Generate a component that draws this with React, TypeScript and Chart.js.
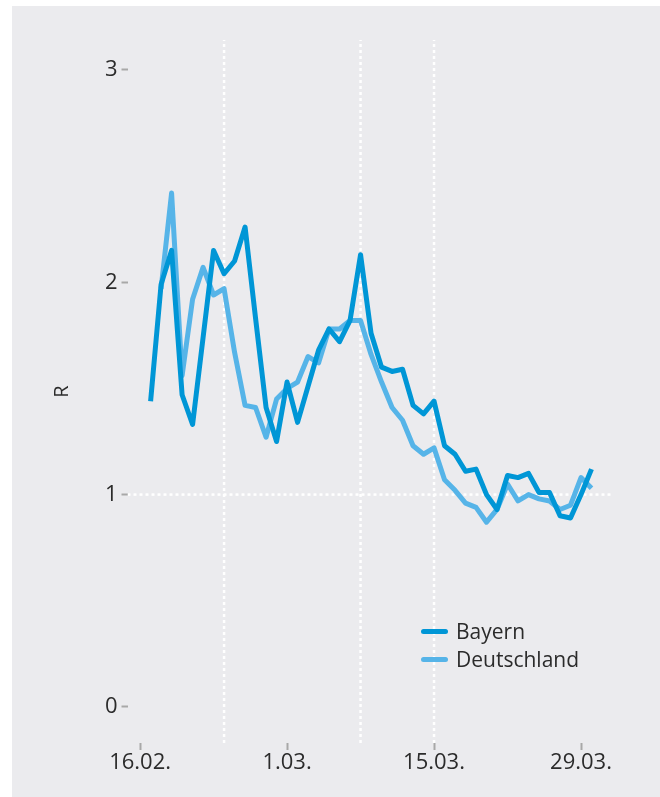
import React, { useEffect, useRef } from "react";
import { Chart, registerables } from "chart.js";

Chart.register(...registerables);

// days since 16.02.
const days = [1, 2, 3, 4, 5, 6, 7, 8, 9, 10, 11, 12, 13, 14, 15, 16, 17, 18, 19, 20, 21, 22, 23, 24, 25, 26, 27, 28, 29, 30, 31, 32, 33, 34, 35, 36, 37, 38, 39, 40, 41, 42, 43];
const bayern = [1.44, 1.99, 2.15, 1.47, 1.33, 1.74, 2.15, 2.04, 2.10, 2.26, 1.83, 1.41, 1.25, 1.53, 1.34, 1.51, 1.68, 1.78, 1.72, 1.82, 2.13, 1.76, 1.60, 1.58, 1.59, 1.42, 1.38, 1.44, 1.23, 1.19, 1.11, 1.12, 1.00, 0.93, 1.09, 1.08, 1.10, 1.01, 1.01, 0.90, 0.89, 1.00, 1.12];
const deutschland = [null, 1.97, 2.42, 1.56, 1.92, 2.07, 1.94, 1.97, 1.67, 1.42, 1.41, 1.27, 1.45, 1.50, 1.53, 1.65, 1.62, 1.78, 1.78, 1.82, 1.82, 1.66, 1.53, 1.41, 1.35, 1.23, 1.19, 1.22, 1.07, 1.02, 0.96, 0.94, 0.87, 0.93, 1.05, 0.97, 1.00, 0.98, 0.97, 0.93, 0.95, 1.08, 1.03];
const seriesNames = ["Bayern", "Deutschland"];
const seriesColors = ["#0096d6", "#56b4e8"];

const xTickDays = [0, 14, 28, 42];
const xTickLabels = ["16.02.", "1.03.", "15.03.", "29.03."];
const yTicks = [0, 1, 2, 3];
const yTitle = "R";
const refDays = [8, 21, 28];
const refR = [1];

const X_MIN = -1.2;
const X_MAX = 45;
const Y_MIN = -0.17;
const Y_MAX = 3.141;

const TEXT = "#2b2b2b";
const FONT = "'Open Sans', 'DejaVu Sans', sans-serif";

export default function App() {
  const ref = useRef<HTMLCanvasElement | null>(null);

  useEffect(() => {
    if (!ref.current) return;
    const series = [bayern, deutschland].map((vals, k) => ({
      label: seriesNames[k],
      data: days.map((d, i) => ({ x: d, y: vals[i] })),
      borderColor: seriesColors[k],
      backgroundColor: seriesColors[k],
      borderWidth: 5,
      borderCapStyle: "butt" as const,
      borderJoinStyle: "round" as const,
      pointRadius: 0,
      tension: 0,
      spanGaps: false,
    }));
    const refLineStyle = {
      borderColor: "#ffffff",
      borderWidth: 2.5,
      borderDash: [3, 3],
      pointRadius: 0,
      tension: 0,
    };
    const vRefs = refDays.map((d) => ({
      label: "",
      data: [
        { x: d, y: Y_MIN },
        { x: d, y: Y_MAX },
      ],
      ...refLineStyle,
    }));
    const hRefs = refR.map((r) => ({
      label: "",
      data: [
        { x: X_MIN, y: r },
        { x: X_MAX, y: r },
      ],
      ...refLineStyle,
    }));

    const chart = new Chart(ref.current, {
      type: "line",
      data: { datasets: [...series, ...vRefs, ...hRefs] as any },
      options: {
        animation: false,
        responsive: false,
        devicePixelRatio: window.devicePixelRatio || 1,
        layout: { padding: { left: 0, top: 34, right: 47.5, bottom: 0 } },
        plugins: {
          legend: { display: false },
          tooltip: { enabled: false },
        },
        scales: {
          x: {
            type: "linear",
            min: X_MIN,
            max: X_MAX,
            afterBuildTicks: (s: any) => {
              s.ticks = xTickDays.map((v) => ({ value: v }));
            },
            afterFit: (s: any) => {
              s.height = 54;
            },
            ticks: {
              autoSkip: false,
              maxRotation: 0,
              padding: 0,
              color: TEXT,
              font: { family: FONT, size: 22 },
              callback: (v: any) => {
                const i = xTickDays.indexOf(Number(v));
                return i >= 0 ? xTickLabels[i] : "";
              },
            },
            grid: {
              drawOnChartArea: false,
              drawTicks: true,
              tickLength: 7,
              tickColor: "#a8a8a8",
              tickWidth: 2,
              color: "rgba(0,0,0,0)",
            },
            border: { display: false },
          },
          y: {
            type: "linear",
            min: Y_MIN,
            max: Y_MAX,
            afterBuildTicks: (s: any) => {
              s.ticks = yTicks.map((v) => ({ value: v }));
            },
            afterFit: (s: any) => {
              s.width = 115.5;
            },
            ticks: {
              padding: 4,
              color: TEXT,
              font: { family: FONT, size: 22 },
              callback: (v: any) => String(v),
            },
            grid: {
              drawOnChartArea: false,
              drawTicks: true,
              tickLength: 6,
              tickColor: "#a8a8a8",
              tickWidth: 2,
              color: "rgba(0,0,0,0)",
            },
            border: { display: false },
            title: {
              display: true,
              text: yTitle,
              color: TEXT,
              font: { family: FONT, size: 20 },
              padding: { top: 38, bottom: 0 },
            },
          },
        },
      },
    });
    return () => chart.destroy();
  }, []);

  return (
    <div style={{ position: "absolute", left: 12, top: 6, width: 648, height: 791, background: "#ebebee" }}>
      <canvas ref={ref} width={648} height={791} style={{ display: "block", width: 648, height: 791 }} />
      <div style={{ position: "absolute", left: 421 - 12, top: 617 - 6, fontFamily: FONT, fontSize: 21, color: TEXT }}>
        {seriesNames.map((name, k) => (
          <div key={name} style={{ display: "flex", alignItems: "center", height: 28 }}>
            <span
              style={{
                display: "inline-block",
                width: 27,
                height: 5,
                borderRadius: 3,
                background: seriesColors[k],
                marginRight: 8,
              }}
            />
            <span style={{ lineHeight: "28px" }}>{name}</span>
          </div>
        ))}
      </div>
    </div>
  );
}
